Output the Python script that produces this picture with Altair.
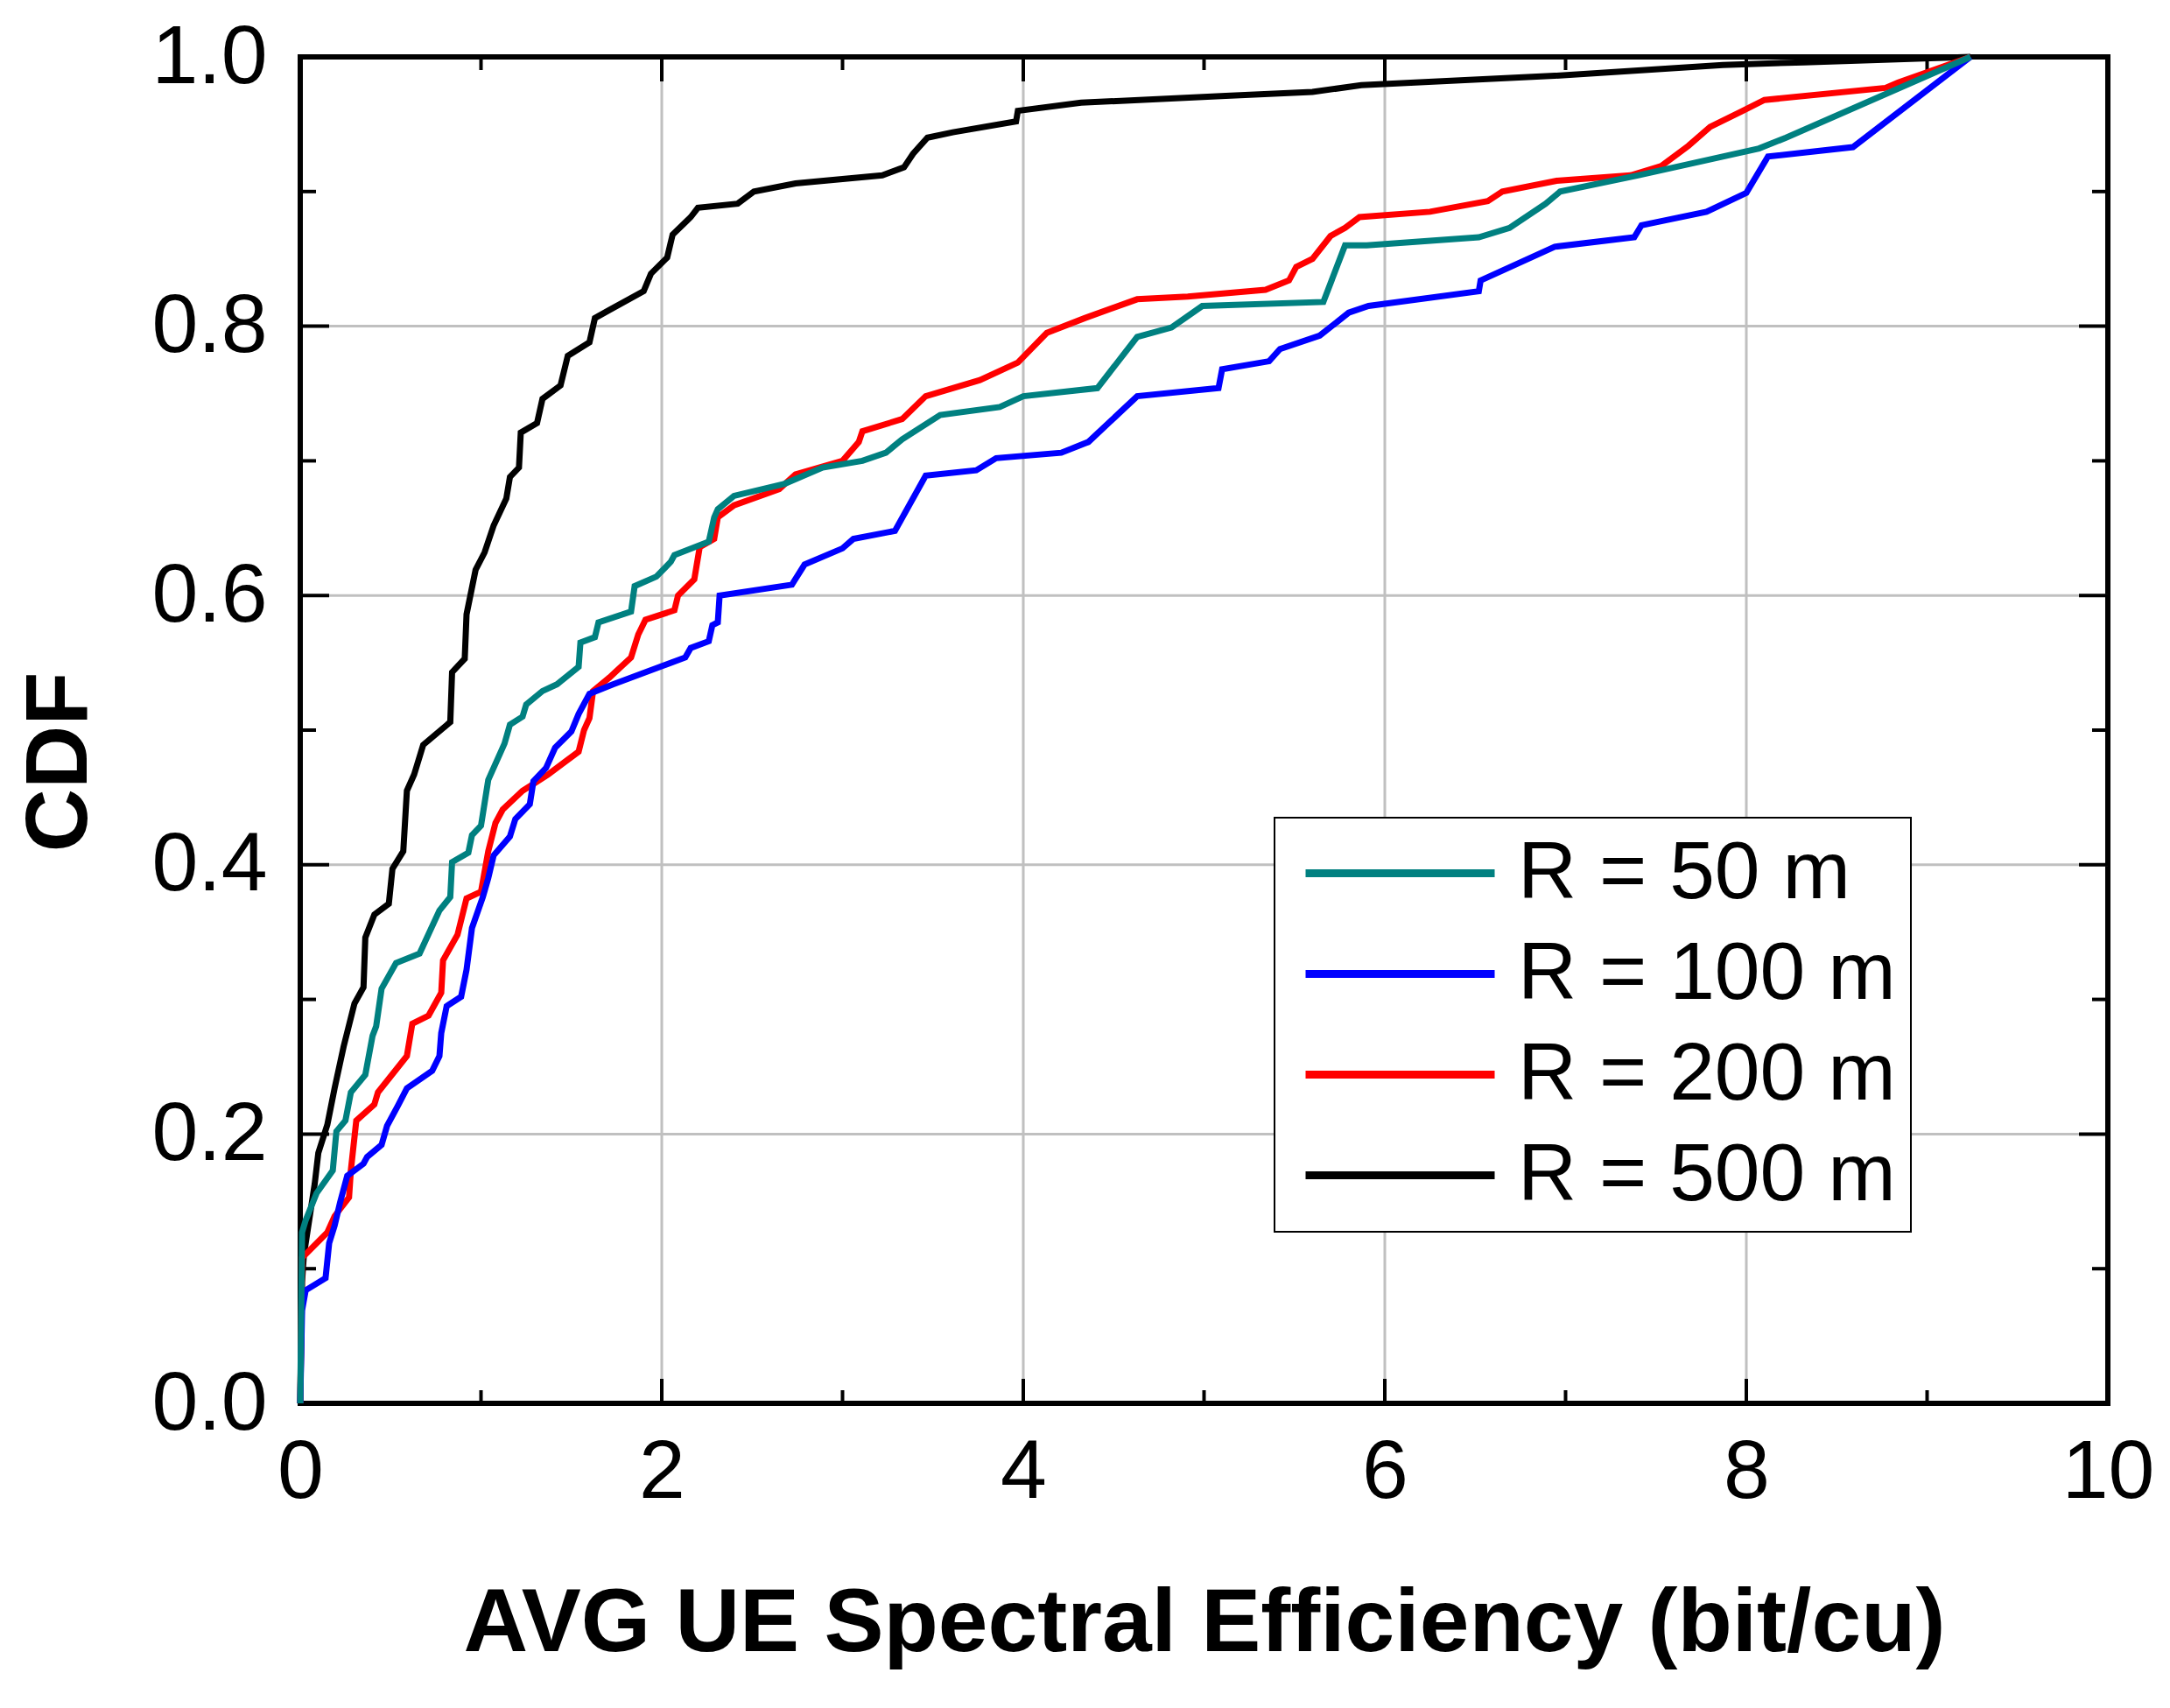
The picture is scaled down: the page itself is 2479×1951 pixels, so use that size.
import altair as alt
import pandas as pd

SERIES = ["R = 50 m", "R = 100 m", "R = 200 m", "R = 500 m"]
COLORS = ["#008080", "#0000ff", "#ff0000", "#000000"]

r50_x = [0, 0.01, 0.03, 0.09, 0.18, 0.20, 0.25, 0.28, 0.36, 0.40, 0.42, 0.45, 0.53, 0.66,
         0.77, 0.83, 0.84, 0.93, 0.95, 1.00, 1.04, 1.13, 1.16, 1.23, 1.25, 1.34, 1.42, 1.54,
         1.55, 1.63, 1.65, 1.83, 1.85, 1.97, 2.05, 2.07, 2.26, 2.29, 2.31, 2.40, 2.68, 2.89,
         3.11, 3.24, 3.33, 3.54, 3.87, 4.00, 4.41, 4.63, 4.82, 4.99, 5.66, 5.78, 5.90, 6.52,
         6.69, 6.89, 6.97, 7.40, 8.07, 8.22, 9.24]
r50_y = [0, 0.127, 0.136, 0.156, 0.173, 0.202, 0.210, 0.231, 0.244, 0.273, 0.280, 0.308,
         0.327, 0.334, 0.366, 0.376, 0.402, 0.409, 0.422, 0.429, 0.463, 0.490, 0.504, 0.510,
         0.519, 0.529, 0.534, 0.547, 0.565, 0.569, 0.580, 0.588, 0.607, 0.614, 0.625, 0.630,
         0.640, 0.658, 0.664, 0.674, 0.683, 0.695, 0.700, 0.706, 0.716, 0.734, 0.740, 0.748,
         0.754, 0.792, 0.799, 0.815, 0.818, 0.860, 0.860, 0.866, 0.873, 0.891, 0.900, 0.912,
         0.932, 0.940, 1.0]

r100_x = [0, 0.01, 0.03, 0.14, 0.16, 0.19, 0.22, 0.26, 0.35, 0.37, 0.45, 0.48, 0.54, 0.59,
          0.73, 0.77, 0.78, 0.81, 0.89, 0.92, 0.95, 1.01, 1.04, 1.07, 1.16, 1.19, 1.27, 1.29,
          1.36, 1.41, 1.50, 1.54, 1.60, 1.73, 1.97, 2.13, 2.16, 2.26, 2.28, 2.31, 2.32, 2.72,
          2.79, 3.00, 3.06, 3.29, 3.46, 3.74, 3.85, 4.21, 4.36, 4.63, 5.08, 5.10, 5.36, 5.42,
          5.64, 5.80, 5.91, 6.52, 6.53, 6.94, 7.38, 7.42, 7.78, 8.00, 8.12, 8.59, 9.24]
r100_y = [0, 0.069, 0.084, 0.093, 0.119, 0.132, 0.149, 0.169, 0.178, 0.183, 0.192, 0.206,
          0.221, 0.234, 0.247, 0.258, 0.275, 0.295, 0.302, 0.322, 0.353, 0.376, 0.390, 0.407,
          0.421, 0.434, 0.445, 0.462, 0.472, 0.487, 0.499, 0.512, 0.527, 0.534, 0.546, 0.554,
          0.561, 0.566, 0.578, 0.580, 0.600, 0.608, 0.623, 0.635, 0.642, 0.648, 0.689, 0.693,
          0.702, 0.706, 0.714, 0.748, 0.754, 0.768, 0.774, 0.783, 0.793, 0.810, 0.815, 0.826,
          0.834, 0.859, 0.866, 0.875, 0.885, 0.899, 0.926, 0.933, 1.0]

r200_x = [0, 0.01, 0.15, 0.19, 0.27, 0.28, 0.31, 0.41, 0.43, 0.59, 0.62, 0.71, 0.78, 0.79,
          0.87, 0.92, 1.00, 1.04, 1.08, 1.12, 1.23, 1.29, 1.37, 1.47, 1.54, 1.57, 1.60, 1.62,
          1.71, 1.83, 1.87, 1.91, 2.07, 2.09, 2.18, 2.21, 2.29, 2.31, 2.40, 2.65, 2.74, 3.00,
          3.09, 3.11, 3.33, 3.46, 3.76, 3.97, 4.13, 4.34, 4.63, 4.91, 5.34, 5.47, 5.51, 5.60,
          5.70, 5.78, 5.86, 6.25, 6.57, 6.65, 6.95, 7.36, 7.53, 7.68, 7.80, 7.98, 8.10, 8.77,
          8.84, 9.24]
r200_y = [0, 0.108, 0.127, 0.139, 0.153, 0.173, 0.210, 0.222, 0.231, 0.258, 0.282, 0.288,
          0.305, 0.329, 0.348, 0.375, 0.380, 0.410, 0.431, 0.441, 0.455, 0.460, 0.467, 0.477,
          0.484, 0.500, 0.509, 0.529, 0.539, 0.554, 0.571, 0.582, 0.589, 0.600, 0.612, 0.636,
          0.642, 0.658, 0.667, 0.679, 0.690, 0.700, 0.714, 0.722, 0.731, 0.748, 0.760, 0.773,
          0.795, 0.806, 0.820, 0.822, 0.827, 0.834, 0.844, 0.850, 0.867, 0.873, 0.881, 0.885,
          0.893, 0.900, 0.908, 0.912, 0.919, 0.934, 0.948, 0.960, 0.968, 0.977, 0.981, 1.0]

r500_x = [0, 0.01, 0.02, 0.08, 0.10, 0.15, 0.19, 0.24, 0.30, 0.35, 0.36, 0.41, 0.49, 0.51,
          0.57, 0.59, 0.63, 0.68, 0.83, 0.84, 0.91, 0.92, 0.97, 1.02, 1.07, 1.14, 1.16, 1.21,
          1.22, 1.31, 1.34, 1.44, 1.48, 1.60, 1.63, 1.71, 1.90, 1.94, 2.03, 2.06, 2.16, 2.20,
          2.42, 2.51, 2.74, 3.22, 3.34, 3.39, 3.47, 3.61, 3.96, 3.97, 4.32, 5.12, 5.60, 5.87,
          6.94, 7.87, 8.32, 9.24]
r500_y = [0, 0.090, 0.110, 0.163, 0.186, 0.207, 0.234, 0.265, 0.297, 0.309, 0.346, 0.363,
          0.371, 0.397, 0.410, 0.455, 0.467, 0.489, 0.506, 0.543, 0.553, 0.586, 0.619, 0.632,
          0.652, 0.672, 0.688, 0.695, 0.721, 0.728, 0.746, 0.756, 0.778, 0.788, 0.806, 0.812,
          0.826, 0.839, 0.851, 0.868, 0.881, 0.888, 0.891, 0.900, 0.906, 0.912, 0.918, 0.928,
          0.940, 0.944, 0.952, 0.960, 0.966, 0.971, 0.974, 0.979, 0.986, 0.994, 0.996, 1.0]

x_major = [0, 2, 4, 6, 8, 10]
x_minor = [1, 3, 5, 7, 9]
y_major = [0.0, 0.2, 0.4, 0.6, 0.8, 1.0]
y_minor = [0.1, 0.3, 0.5, 0.7, 0.9]
x_grid = [2, 4, 6, 8]
y_grid = [0.2, 0.4, 0.6, 0.8]

X_TITLE = "AVG UE Spectral Efficiency (bit/cu)"
Y_TITLE = "CDF"

W, H = 2065, 1538
FONT = "Liberation Sans"

rows = []
for name, xs, ys in zip(SERIES, [r50_x, r100_x, r200_x, r500_x], [r50_y, r100_y, r200_y, r500_y]):
    for i, (x, y) in enumerate(zip(xs, ys)):
        rows.append({"series": name, "x": x, "y": y, "i": i})
df = pd.DataFrame(rows)

x_scale = alt.Scale(domain=[0, 10], nice=False)
y_scale = alt.Scale(domain=[0, 1], nice=False)

x_axis = alt.Axis(values=x_major, format="d", grid=False, domain=False, ticks=False,
                  labelFontSize=95, labelFont=FONT, labelColor="black", labelPadding=32,
                  labelFlush=False, labelOverlap=False,
                  titleFontSize=102, titleFont=FONT, titleFontWeight="bold", titleColor="black",
                  titleBaseline="alphabetic", titleY=282)
y_axis = alt.Axis(values=y_major, format=".1f", grid=False, domain=False, ticks=False,
                  labelFontSize=95, labelFont=FONT, labelColor="black", labelPadding=38,
                  labelFlush=False, labelOverlap=False,
                  titleFontSize=100, titleFont=FONT, titleFontWeight="bold", titleColor="black",
                  titleAngle=270, titleAlign="center", titleBaseline="alphabetic",
                  titleX=-245, titleY=805)


def xenc(field):
    return alt.X(field, scale=x_scale, axis=x_axis, title=X_TITLE)


def yenc(field):
    return alt.Y(field, scale=y_scale, axis=y_axis, title=Y_TITLE)


legend = alt.Legend(title=None, orient="none", legendX=1113, legendY=869,
                    symbolType="stroke", symbolSize=46656, symbolStrokeWidth=9,
                    symbolOffset=14, labelOffset=22, labelFontSize=93, labelFont=FONT,
                    labelColor="black", labelLimit=1000, clipHeight=93, rowPadding=21,
                    padding=17, strokeColor="black", fillColor="white", cornerRadius=0)

grid_x = alt.Chart(pd.DataFrame({"v": x_grid})).mark_rule(color="#c0c0c0", strokeWidth=3).encode(
    x=xenc("v:Q")
)
grid_y = alt.Chart(pd.DataFrame({"v": y_grid})).mark_rule(color="#c0c0c0", strokeWidth=3).encode(
    y=yenc("v:Q")
)


def x_ticks(values, size):
    src = alt.Chart(pd.DataFrame({"v": values})).mark_rule(color="black", strokeWidth=4)
    bottom = src.encode(x=xenc("v:Q"), y=alt.value(H), y2=alt.value(H - size))
    top = src.encode(x=xenc("v:Q"), y=alt.value(0), y2=alt.value(size))
    return bottom + top


def y_ticks(values, size):
    src = alt.Chart(pd.DataFrame({"v": values})).mark_rule(color="black", strokeWidth=4)
    left = src.encode(y=yenc("v:Q"), x=alt.value(0), x2=alt.value(size))
    right = src.encode(y=yenc("v:Q"), x=alt.value(W), x2=alt.value(W - size))
    return left + right


base = alt.Chart(df).encode(
    x=xenc("x:Q"),
    y=yenc("y:Q"),
    color=alt.Color("series:N", scale=alt.Scale(domain=SERIES, range=COLORS), legend=legend),
    order="i:Q",
)

# black drawn first, teal last (on top), as in the original
lines = [
    base.transform_filter(alt.datum.series == s).mark_line(strokeWidth=7)
    for s in ["R = 500 m", "R = 200 m", "R = 100 m", "R = 50 m"]
]

chart = alt.layer(
    grid_x, grid_y,
    x_ticks(x_major, 28), x_ticks(x_minor, 15),
    y_ticks(y_major, 33), y_ticks(y_minor, 18),
    *lines,
).properties(
    width=W,
    height=H,
    autosize=alt.AutoSizeParams(type="none"),
    padding={"left": 335, "top": 57, "right": 60, "bottom": 340},
).configure(
    font=FONT
).configure_view(
    stroke="black", strokeWidth=6
).configure_legend(
    strokeWidth=2
)

chart.save("out.html", embed_options={"renderer": "svg", "actions": False})
